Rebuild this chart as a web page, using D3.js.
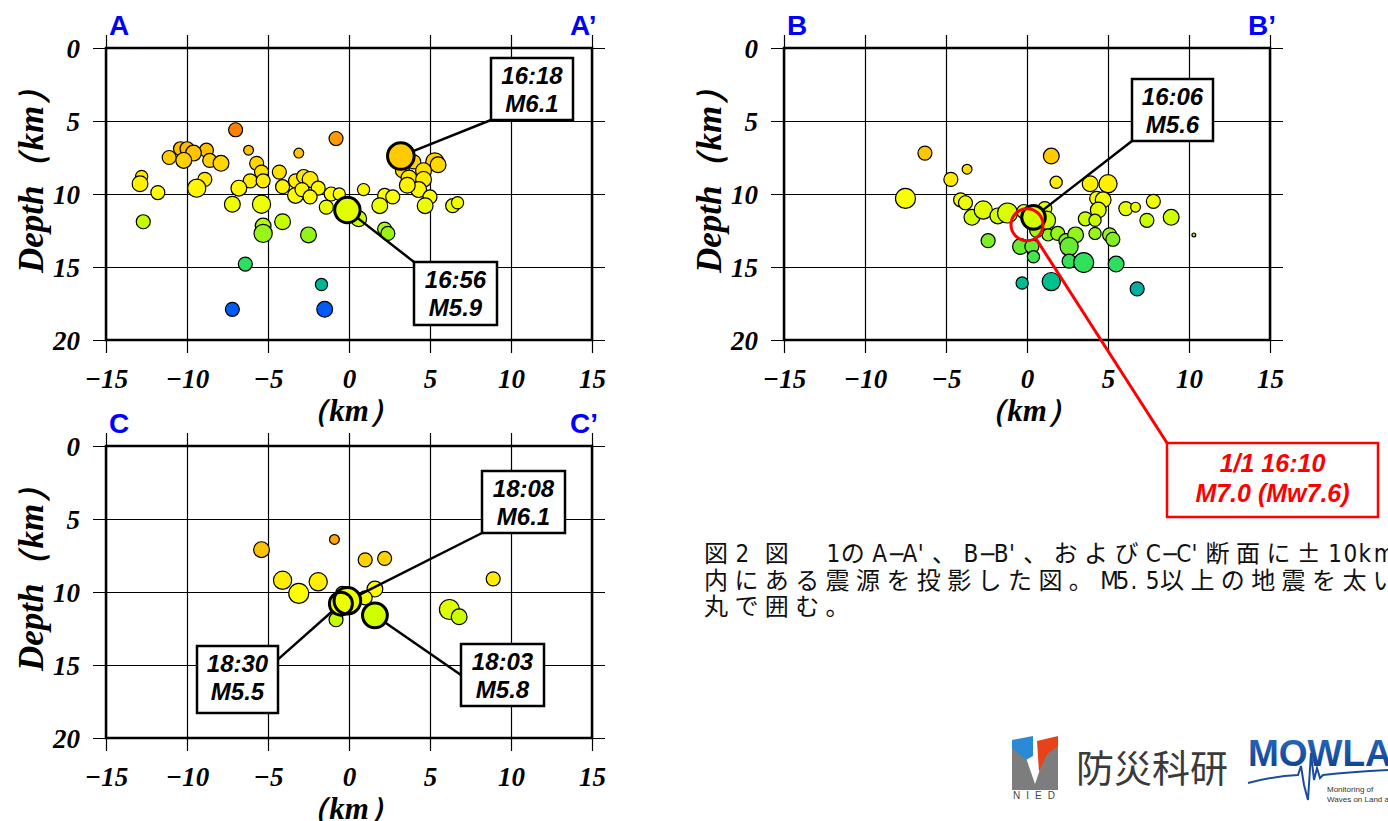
<!DOCTYPE html>
<html>
<head>
<meta charset="utf-8">
<script src="https://cdn.jsdelivr.net/npm/d3@7"></script>
<style>
  body { margin: 0; background: #fff; overflow: hidden; }
</style>
</head>
<body>
<svg id="chart" width="1388" height="821"></svg>
<script>
// ---- data (distance along section km, depth km, magnitude) ----
const xTicks = [-15, -10, -5, 0, 5, 10, 15];
const yTicks = [0, 5, 10, 15, 20];

// section A-A'
const aX = [-7.0, -0.8, -6.2, -3.1, -8.8, -10.4, -10.0, -9.6, -11.1, -10.2,
            -8.6, -7.9, -8.9, -9.4, -12.8, -12.9, -11.8, -5.7, -5.4, -6.1,
            -5.3, -6.8, -4.3, -4.1, -3.3, -2.8, -2.4, -1.9, -3.3, -2.9,
            -2.4, -1.1, -0.6, -1.4, -7.2, -5.4, -4.1, -5.3, -5.3, -2.5,
            -12.7, -6.4, -1.7, -7.2, -1.5, 4.0, 5.3, 5.5, 3.3, 3.7,
            4.6, 4.6, 4.3, 3.6, 5.0, 4.7, 0.9, 2.2, 2.7, 1.9,
            6.4, 6.7, 0.2, 0.6, 2.2, 2.4];
const aDepth = [5.6, 6.2, 7.0, 7.2, 7.0, 6.9, 6.9, 7.2, 7.5, 7.7,
                7.7, 7.9, 9.0, 9.6, 8.8, 9.3, 9.9, 7.9, 8.5, 9.1,
                9.1, 9.6, 8.5, 9.5, 9.1, 8.8, 9.0, 9.6, 10.1, 9.7,
                10.2, 10.0, 10.0, 10.9, 10.7, 10.7, 11.9, 12.2, 12.7, 12.8,
                11.9, 14.8, 16.2, 17.9, 17.9, 7.8, 7.8, 8.0, 8.4, 8.9,
                8.4, 9.0, 9.7, 9.4, 10.2, 10.8, 9.7, 10.1, 10.2, 10.8,
                10.8, 10.6, 11.3, 11.7, 12.4, 12.7];
const aMag = [4.0, 4.0, 3.3, 3.3, 4.0, 4.0, 4.0, 4.3, 4.0, 4.3,
              4.0, 4.3, 4.0, 4.7, 3.7, 4.3, 4.0, 4.0, 4.0, 4.0,
              4.0, 4.3, 4.0, 4.0, 4.0, 4.0, 4.3, 4.0, 4.3, 4.0,
              4.0, 4.0, 3.7, 4.0, 4.3, 4.7, 4.3, 4.3, 4.7, 4.3,
              4.0, 4.0, 3.7, 4.0, 4.3, 4.0, 4.7, 4.3, 4.0, 4.3,
              4.3, 4.3, 4.3, 4.3, 4.0, 4.3, 3.7, 4.0, 4.0, 4.3,
              4.0, 3.7, 4.3, 4.3, 4.0, 4.0];

// section B-B'
const bX = [-6.3, -3.7, -4.7, -7.5, -4.1, -3.8, -3.4, -2.7, -1.8, -1.2,
            -0.2, 1.1, 1.2, 1.3, 0.6, -0.4, 0.3, 0.4, -2.4, 1.9,
            2.4, 3.0, 2.6, 2.6, 3.5, 5.5, 1.5, 1.8, 3.9, 5.0,
            4.3, 4.7, 4.4, 3.6, 4.2, 4.2, 5.1, 5.3, 6.1, 6.7,
            7.8, 7.4, 8.9, 10.3, -0.3, 1.5, 6.8];
const bDepth = [7.2, 8.3, 9.0, 10.3, 10.4, 10.6, 11.6, 11.1, 11.5, 11.3,
                11.2, 11.0, 11.8, 12.8, 12.5, 13.6, 13.6, 14.3, 13.2, 12.7,
                13.2, 12.8, 13.6, 14.6, 14.7, 14.8, 7.4, 9.2, 9.3, 9.3,
                10.3, 10.4, 11.1, 11.7, 11.8, 12.7, 12.8, 13.1, 11.0, 10.9,
                10.5, 11.8, 11.6, 12.8, 16.1, 16.0, 16.5];
const bMag = [4.0, 3.3, 4.0, 5.0, 4.0, 4.0, 4.3, 4.7, 4.3, 5.0,
              4.0, 4.0, 4.7, 3.7, 4.0, 4.3, 4.0, 3.7, 4.0, 4.0,
              4.0, 4.3, 4.7, 4.0, 5.0, 4.3, 4.3, 3.7, 4.3, 4.7,
              4.0, 4.3, 4.3, 4.0, 3.7, 3.7, 4.0, 4.0, 4.0, 3.3,
              4.0, 4.0, 4.3, 2.3, 3.7, 4.7, 4.0];

// section C-C'
const cX = [-5.4, -0.9, 1.0, 2.2, -4.1, -3.1, -1.9, -0.4, 1.6, 1.0,
            -0.8, 6.2, 6.8, 8.9];
const cDepth = [7.1, 6.4, 7.8, 7.7, 9.2, 10.1, 9.3, 10.1, 9.8, 10.4,
                11.9, 11.2, 11.7, 9.1];
const cMag = [4.3, 3.3, 4.0, 4.0, 4.7, 5.0, 4.7, 4.0, 4.3, 4.0,
              4.0, 5.0, 4.3, 4.0];

// labelled events (M5.5+)
const evPanel = ["A", "A", "B", "B", "C", "C", "C"];
const evX = [3.2, -0.1, 0.4, 0.0, -0.1, -0.5, 1.6];
const evDepth = [7.4, 11.1, 11.6, 12.1, 10.6, 10.8, 11.6];
const evMag = [6.1, 5.9, 5.6, 7.0, 6.1, 5.5, 5.8];
const evTime = ["16:18", "16:56", "16:06", "1/1 16:10", "18:08", "18:30", "18:03"];
const evLabel = ["M6.1", "M5.9", "M5.6", "M7.0 (Mw7.6)", "M6.1", "M5.5", "M5.8"];
const mainShock = 3;

// label box layout, px relative to panel origin; (ax, ay) = leader start inside box
const boxLayout = [
  {x: 385, y: 10, w: 82, h: 62, ax: 0, ay: 1},
  {x: 308, y: 214, w: 83, h: 63, ax: 0, ay: 0},
  {x: 348, y: 31, w: 81, h: 62, ax: 0, ay: 1},
  {x: 383, y: 395, w: 211, h: 74, ax: 0, ay: 0},
  {x: 376, y: 25, w: 83, h: 62, ax: 0, ay: 1},
  {x: 91, y: 200, w: 81, h: 67, ax: 1, ay: 0.2},
  {x: 355, y: 198, w: 83, h: 62, ax: 0, ay: 0.5}
];

const panels = [
  {name: "A", left: 106, top: 48, xs: aX, ds: aDepth, ms: aMag},
  {name: "B", left: 784, top: 48, xs: bX, ds: bDepth, ms: bMag},
  {name: "C", left: 106, top: 446, xs: cX, ds: cDepth, ms: cMag}
];

// ---- drawing ----
const svg = d3.select("#chart");
const W = 486, H = 292;
const serif = "'Liberation Serif', 'Times New Roman', serif";
const sans = "'Liberation Sans', Arial, sans-serif";

const depthColor = d3.scaleLinear()
  .domain([5, 6, 7, 8, 9, 10, 11, 12, 13, 14, 15, 16, 17, 18])
  .range(["#ff6a00", "#ff9000", "#ffc000", "#ffd800", "#ffea00", "#ffff00", "#e6ff00",
          "#c0ff00", "#88f020", "#55e840", "#22dd66", "#00c090", "#0099b0", "#0055ff"])
  .clamp(true);
const rScale = d3.scaleLinear().domain([2, 7]).range([1, 16]);

function drawPanel(p) {
  const g = svg.append("g").attr("transform", `translate(${p.left},${p.top})`);
  const x = d3.scaleLinear().domain([-15, 15]).range([0, W]);
  const y = d3.scaleLinear().domain([0, 20]).range([0, H]);

  // grid lines that stick out as ticks on every side
  const gx = g.append("g").attr("transform", "translate(0,-13)")
    .call(d3.axisBottom(x).tickValues(xTicks).tickSize(H + 26).tickFormat(d3.format("d")));
  gx.select(".domain").remove();
  gx.selectAll("line").attr("stroke", "#000").attr("stroke-width", 1.2);
  gx.selectAll("text")
    .attr("y", H + 61).attr("dy", 0)
    .attr("fill", "#000")
    .style("font", `italic bold 27px ${serif}`);

  const gy = g.append("g").attr("transform", `translate(${W + 13},0)`)
    .call(d3.axisLeft(y).tickValues(yTicks).tickSize(W + 26).tickFormat(d3.format("d")));
  gy.select(".domain").remove();
  gy.selectAll("line").attr("stroke", "#000").attr("stroke-width", 1.2);
  gy.selectAll("text")
    .attr("x", -(W + 39)).attr("dy", "0.35em")
    .attr("fill", "#000")
    .style("font", `italic bold 27px ${serif}`);

  g.append("rect")
    .attr("width", W).attr("height", H)
    .attr("fill", "none").attr("stroke", "#000").attr("stroke-width", 2.5);

  // section end labels
  g.append("text").attr("x", 3).attr("y", -13).text(p.name)
    .attr("fill", "#0000ff").style("font", `bold 28px ${sans}`);
  g.append("text").attr("x", W - 22).attr("y", -13).text(p.name + "\u2019")
    .attr("fill", "#0000ff").style("font", `bold 28px ${sans}`);

  // axis titles
  g.append("text").attr("x", W / 2).attr("y", H + 81)
    .attr("text-anchor", "middle")
    .style("font", `italic bold 31px ${serif}`)
    .text("（km）");
  g.append("text")
    .attr("transform", `translate(${43 - 106},${124}) rotate(-90)`)
    .attr("text-anchor", "middle")
    .style("font", `italic bold 35px ${serif}`)
    .text("Depth（km）");

  // hypocentres
  g.append("g").selectAll("circle")
    .data(d3.range(p.xs.length))
    .join("circle")
      .attr("cx", i => x(p.xs[i]))
      .attr("cy", i => y(p.ds[i]))
      .attr("r", i => rScale(p.ms[i]))
      .attr("fill", i => depthColor(p.ds[i]))
      .attr("stroke", "#000")
      .attr("stroke-width", 1.2);

  // labelled events
  const ev = d3.range(evPanel.length).filter(i => evPanel[i] === p.name);

  ev.forEach(i => {
    const b = boxLayout[i];
    const sx = b.x + b.ax * b.w, sy = b.y + b.ay * b.h;
    const cx = x(evX[i]), cy = y(evDepth[i]), r = rScale(evMag[i]);
    const len = Math.hypot(sx - cx, sy - cy);
    g.append("line")
      .attr("x1", sx).attr("y1", sy)
      .attr("x2", cx + (sx - cx) / len * r).attr("y2", cy + (sy - cy) / len * r)
      .attr("stroke", i === mainShock ? "#ff0000" : "#000")
      .attr("stroke-width", i === mainShock ? 3 : 2.5);
  });

  ev.filter(i => i !== mainShock).forEach(i => {
    g.append("circle")
      .attr("cx", x(evX[i])).attr("cy", y(evDepth[i])).attr("r", rScale(evMag[i]))
      .attr("fill", depthColor(evDepth[i]));
  });
  ev.forEach(i => {
    g.append("circle")
      .attr("cx", x(evX[i])).attr("cy", y(evDepth[i])).attr("r", rScale(evMag[i]))
      .attr("fill", "none")
      .attr("stroke", i === mainShock ? "#ff0000" : "#000")
      .attr("stroke-width", 3);
  });

  ev.forEach(i => {
    const b = boxLayout[i];
    const red = i === mainShock;
    const col = red ? "#ff0000" : "#000";
    const fs = red ? 25 : 24;
    g.append("rect")
      .attr("x", b.x).attr("y", b.y).attr("width", b.w).attr("height", b.h)
      .attr("fill", "#fff").attr("stroke", col).attr("stroke-width", 2.5);
    [evTime[i], evLabel[i]].forEach((t, k) => {
      g.append("text")
        .attr("x", b.x + b.w / 2)
        .attr("y", b.y + (red ? 29 + k * 30 : 26 + k * 28))
        .attr("text-anchor", "middle")
        .attr("fill", col)
        .style("font", `italic bold ${fs}px ${sans}`)
        .text(t);
    });
  });
}

panels.forEach(drawPanel);

// ---- caption (fixed pitch: full-width / half-width cells) ----
const caption = [
  "図2 図  1のA−A'、B−B'、およびC−C'断面に±10km以",
  "内にある震源を投影した図。M5.5以上の地震を太い",
  "丸で囲む。"
];
const cell = 30.4;
const isHalf = ch => ch === "−" || (ch.charCodeAt(0) < 0x2000 && ch !== "±");

caption.forEach((line, li) => {
  const t = svg.append("text")
    .attr("y", 562 + li * 26.5)
    .attr("fill", "#111")
    .style("font", "24px 'Noto Sans CJK JP', sans-serif");
  let cx = 704;
  Array.from(line).forEach(ch => {
    const half = isHalf(ch);
    const ts = t.append("tspan").attr("x", cx + (half ? 1 : 0)).text(ch);
    if (half) ts.style("font-family", "'Liberation Sans Narrow', 'DejaVu Sans Condensed', sans-serif");
    cx += half ? cell / 2 : cell;
  });
});

// ---- logos ----
const logo = svg.append("g");
logo.append("path")
  .attr("d", "M1012,745 L1024,752 L1035,784 L1046,752 L1058,745 L1058,790 L1012,790 Z")
  .attr("fill", "#7d7d7d");
logo.append("path")
  .attr("d", "M1012,740 L1033,736 L1033,756 L1026,760 L1012,748 Z")
  .attr("fill", "#2b8ad6");
logo.append("path")
  .attr("d", "M1037,741 L1058,736 L1058,746 L1047,754 L1039,772 Z")
  .attr("fill", "#e8421a");
logo.append("text").attr("x", 1013).attr("y", 799)
  .attr("fill", "#444")
  .style("font", `10px ${sans}`).style("letter-spacing", "6px")
  .text("NIED");
logo.append("text").attr("x", 1076).attr("y", 782)
  .attr("fill", "#3a3a3a")
  .style("font", "38px 'Noto Sans CJK JP', sans-serif")
  .text("防災科研");

const grad = svg.append("defs").append("linearGradient")
  .attr("id", "mowlas").attr("x1", 0).attr("y1", 0).attr("x2", 0).attr("y2", 1);
grad.append("stop").attr("offset", "0%").attr("stop-color", "#2a6cc0");
grad.append("stop").attr("offset", "100%").attr("stop-color", "#0b3c8a");
logo.append("text").attr("x", 1248).attr("y", 766)
  .attr("fill", "url(#mowlas)")
  .style("font", `bold 37px ${sans}`)
  .text("MOWLAS");
logo.append("path")
  .attr("d", "M1248,783 Q1275,776 1298,775 L1301,766 L1304,785 L1308,800 L1311,753 L1314,780 L1317,768 L1320,778 L1323,775 Q1350,772 1388,770")
  .attr("fill", "none").attr("stroke", "#1a4c9c").attr("stroke-width", 2);
logo.append("text").attr("x", 1327).attr("y", 792)
  .attr("fill", "#333").style("font", `8px ${sans}`).text("Monitoring of");
logo.append("text").attr("x", 1327).attr("y", 802)
  .attr("fill", "#333").style("font", `8px ${sans}`).text("Waves on Land and Seafloor");
</script>
</body>
</html>
